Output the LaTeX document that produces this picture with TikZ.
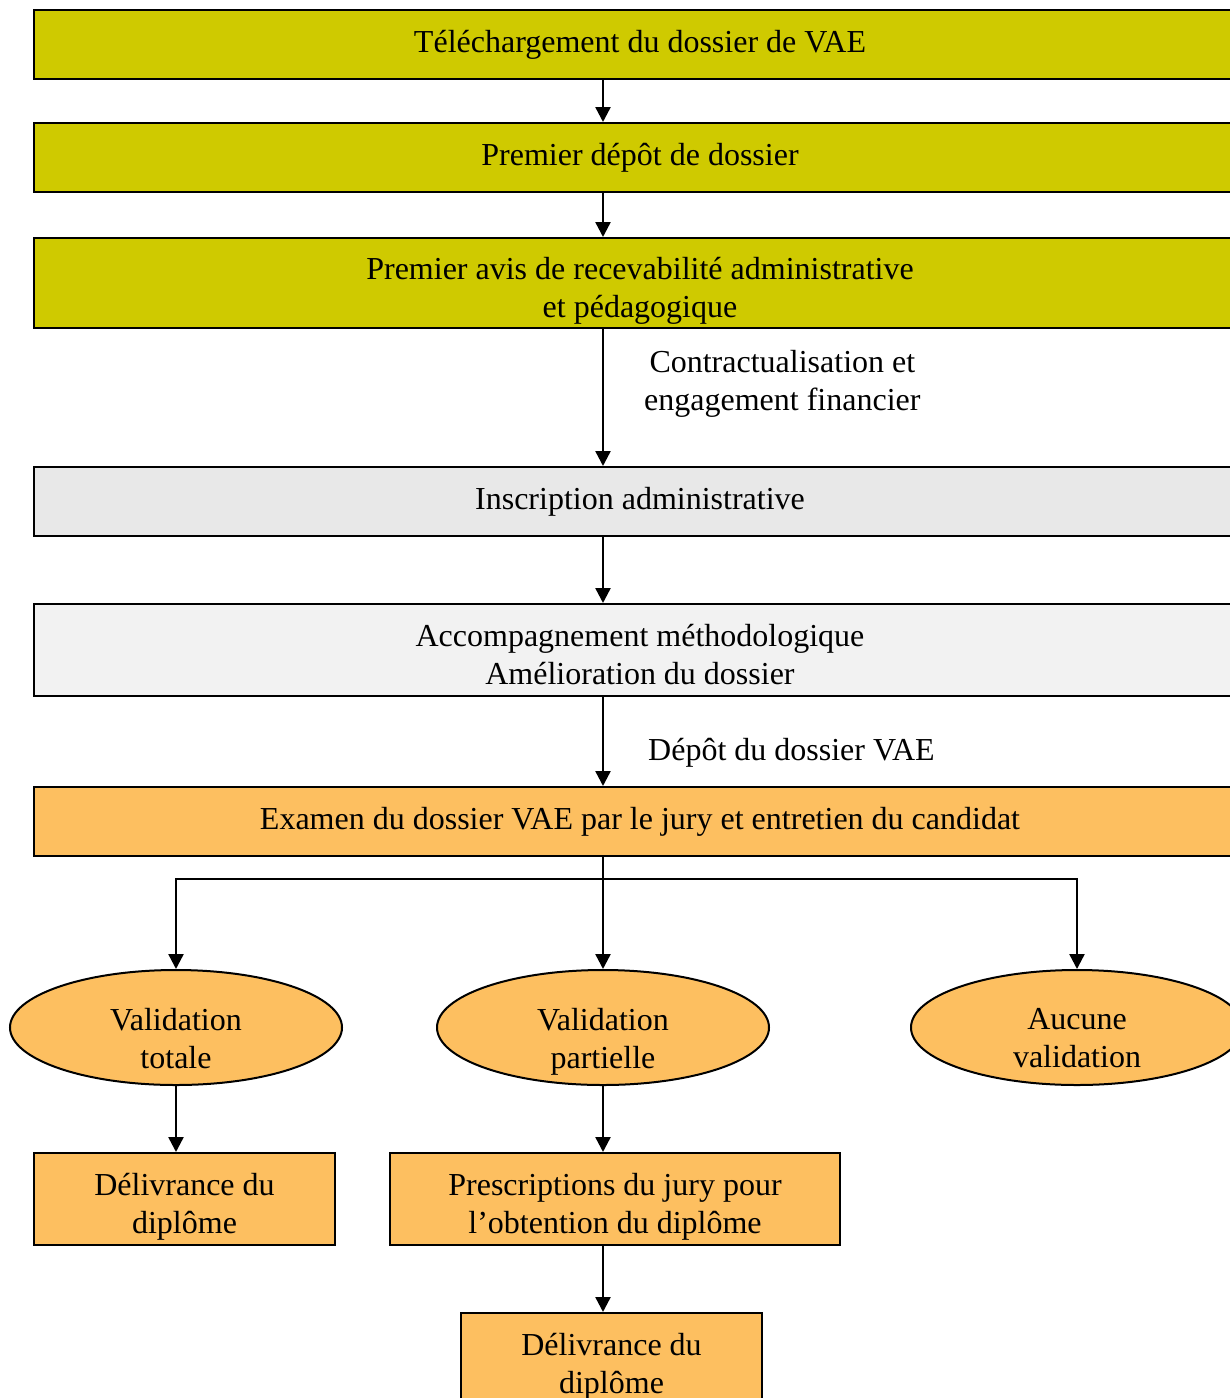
\documentclass[tikz,border=0pt]{standalone}
\usepackage{fontspec}
\setmainfont{Liberation Serif}
\usetikzlibrary{arrows.meta, shapes.geometric}
\definecolor{vaeyellow}{RGB}{207,202,0}
\definecolor{vaeorange}{RGB}{253,191,96}
\definecolor{vaegray}{RGB}{232,232,232}
\definecolor{vaelight}{RGB}{242,242,242}

\begin{document}
\begin{tikzpicture}[x=1pt,y=-1pt,
  font=\fontsize{32}{38}\selectfont,
  every node/.style={inner sep=0pt,align=center},
  every label/.style={inner sep=0pt,align=center},
  stepbox/.style={draw=black,line width=2pt,rectangle,minimum height=69pt,minimum width=1212pt},
  tallbox/.style={stepbox,minimum height=92pt},
  outcome/.style={draw=black,line width=2pt,ellipse,fill=vaeorange,minimum width=332pt,minimum height=115pt},
  flow/.style={line width=2.4pt,-{Triangle[length=15pt,width=15pt]}}]
\useasboundingbox (0,0) rectangle (1230,1398);
%main column
\node[stepbox,fill=vaeyellow] (tele) at (640,44.5) {Téléchargement du dossier de VAE};
\node[stepbox,fill=vaeyellow] (depot) at (640,157.5) {Premier dépôt de dossier};
\node[stepbox,fill=vaeyellow,minimum height=90pt,
  label={[yshift=-8pt]center:{Premier avis de recevabilité administrative\\et pédagogique}}] (avis) at (640,283) {};
\node[stepbox,fill=vaegray] (inscr) at (640,501.5) {Inscription administrative};
\node[tallbox,fill=vaelight,
  label={[yshift=-5pt]center:{Accompagnement méthodologique\\Amélioration du dossier}}] (accomp) at (640,650) {};
\node[stepbox,fill=vaeorange] (examen) at (640,821.5) {Examen du dossier VAE par le jury et entretien du candidat};
%arrows between steps
\coordinate (col) at (603,0);
\draw[flow] (tele.south -| col) -- (depot.north -| col);
\draw[flow] (depot.south -| col) -- (avis.north -| col);
\draw[flow] (avis.south -| col) -- (inscr.north -| col) node[midway,right=40pt,yshift=14pt] {Contractualisation et\\engagement financier};
\draw[flow] (inscr.south -| col) -- (accomp.north -| col);
\draw[flow] (accomp.south -| col) -- (examen.north -| col) node[midway,right=44pt,yshift=-11pt] {Dépôt du dossier VAE};
%outcomes
\node[outcome,label={[yshift=-11pt]center:{Validation\\totale}}] (vtot) at (176,1027.5) {};
\node[outcome,label={[yshift=-14pt]center:{Validation\\partielle}}] (vpart) at (603,1027.5) {};
\node[outcome,label={[yshift=-11pt]center:{Aucune\\validation}}] (vnone) at (1077,1027.5) {};
\coordinate (fork) at (603,879);
\draw[line width=2pt] (examen.south -| col) -- (fork);
\draw[flow] (fork) -| (vtot.north);
\draw[flow] (fork) -- (vpart.north);
\draw[flow] (fork) -| (vnone.north);
%bottom boxes
\node[tallbox,fill=vaeorange,minimum width=301pt,
  label={[yshift=-8pt]center:{Délivrance du\\diplôme}}] (deliv1) at (184.5,1199) {};
\node[tallbox,fill=vaeorange,minimum width=450pt,
  label={[yshift=-8pt]center:{Prescriptions du jury pour\\l’obtention du diplôme}}] (prescr) at (615,1199) {};
\node[tallbox,fill=vaeorange,minimum width=301pt,
  label={[yshift=-8pt]center:{Délivrance du\\diplôme}}] (deliv2) at (611.5,1359) {};
\draw[flow] (vtot.south) -- (vtot.south |- deliv1.north);
\draw[flow] (vpart.south) -- (vpart.south |- prescr.north);
\draw[flow] (vpart.south |- prescr.south) -- (vpart.south |- deliv2.north);
\end{tikzpicture}
\end{document}
